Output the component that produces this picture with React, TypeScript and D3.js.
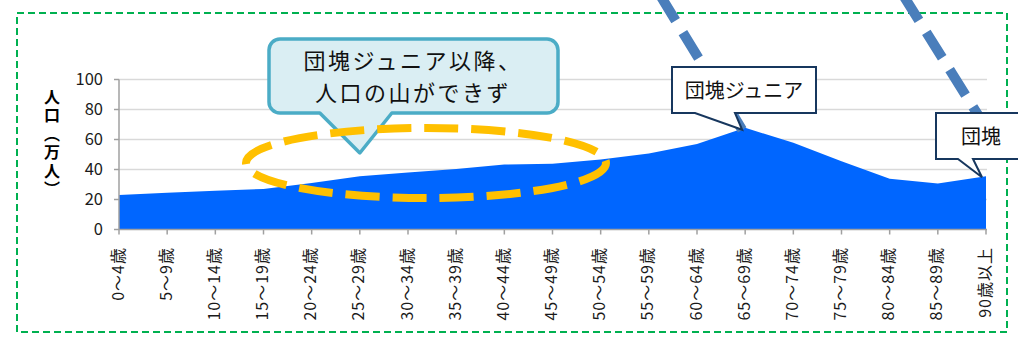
import React from "react";
import * as d3 from "d3";

const categories = [
  "0〜4歳", "5〜9歳", "10〜14歳", "15〜19歳", "20〜24歳", "25〜29歳", "30〜34歳",
  "35〜39歳", "40〜44歳", "45〜49歳", "50〜54歳", "55〜59歳", "60〜64歳", "65〜69歳",
  "70〜74歳", "75〜79歳", "80〜84歳", "85〜89歳", "90歳以上",
];
const population = [
  23, 24.5, 25.8, 27, 31, 35.5, 38, 40.4, 43.3, 43.8, 46.7, 50.7, 57, 67.8, 57.8, 45.5, 33.8, 30.7, 35.5,
];
const yTicks = [0, 20, 40, 60, 80, 100];
const yTitle = "人口（万人）";
const callout1Lines = ["団塊ジュニア以降、", "人口の山ができず"];
const calloutJunior = "団塊ジュニア";
const calloutBoomer = "団塊";

const W = 1018;
const H = 340;
const FONT = "'Noto Sans CJK JP', 'Noto Sans', sans-serif";

export default function App() {
  const x = d3.scalePoint<string>().domain(categories).range([119, 986]);
  const y = d3.scaleLinear().domain([0, 100]).range([229.5, 79.5]);

  const area = d3
    .area<number>()
    .x((_, i) => x(categories[i]) as number)
    .y0(y(0))
    .y1((d) => y(d))
    .curve(d3.curveLinear);

  const juniorIdx = 13;
  const boomerIdx = 18;
  const jx = x(categories[juniorIdx]) as number;
  const jy = y(population[juniorIdx]);
  const bx = x(categories[boomerIdx]) as number;
  const by = y(population[boomerIdx]);

  const c1 = { x0: 269, y0: 39, x1: 558, y1: 113, r: 11 };
  const tip1 = { x: x(categories[5]) as number, y: 153 };
  const c1Path = `M${c1.x0 + c1.r},${c1.y0} H${c1.x1 - c1.r} A${c1.r},${c1.r} 0 0 1 ${c1.x1},${c1.y0 + c1.r} V${c1.y1 - c1.r} A${c1.r},${c1.r} 0 0 1 ${c1.x1 - c1.r},${c1.y1} H${tip1.x + 32} L${tip1.x},${tip1.y} L${tip1.x - 40},${c1.y1} H${c1.x0 + c1.r} A${c1.r},${c1.r} 0 0 1 ${c1.x0},${c1.y1 - c1.r} V${c1.y0 + c1.r} A${c1.r},${c1.r} 0 0 1 ${c1.x0 + c1.r},${c1.y0} Z`;

  const c2 = { x0: 672, y0: 67, x1: 816, y1: 113 };
  const tip2 = { x: jx - 3, y: jy + 2 };
  const c2Path = `M${c2.x0},${c2.y0} H${c2.x1} V${c2.y1} H${735} L${tip2.x},${tip2.y} L${695},${c2.y1} H${c2.x0} Z`;

  const c3 = { x0: 936, y0: 113, x1: 1040, y1: 159 };
  const tip3 = { x: bx - 4, y: by + 1 };
  const c3Path = `M${c3.x0},${c3.y0} H${c3.x1} V${c3.y1} H${973} L${tip3.x},${tip3.y} L${958},${c3.y1} H${c3.x0} Z`;

  return (
    <svg
      width={W}
      height={H}
      style={{ position: "absolute", left: 0, top: 0, background: "#fff" }}
      fontFamily={FONT}
    >
      <rect x={17} y={13} width={990} height={319} fill="none" stroke="#00b050" strokeWidth={2} strokeDasharray="7 4" />

      {yTicks.filter((t) => t > 0).map((t) => (
        <line key={t} x1={119} x2={987} y1={y(t)} y2={y(t)} stroke="#d9d9d9" strokeWidth={1.3} />
      ))}

      <path d={area(population) || ""} fill="#0066ff" />

      <line x1={119} x2={119} y1={y(100)} y2={y(0)} stroke="#a0a0a0" strokeWidth={1.5} />
      {yTicks.map((t) => (
        <g key={t}>
          <line x1={114} x2={119} y1={y(t)} y2={y(t)} stroke="#a0a0a0" strokeWidth={1.5} />
          <text x={103} y={y(t)} dy="0.35em" textAnchor="end" fontSize={16.5} fill="#1a1a1a">
            {t}
          </text>
        </g>
      ))}

      <line x1={119} x2={987} y1={y(0)} y2={y(0)} stroke="#a0a0a0" strokeWidth={1.5} />
      {categories.map((c) => {
        const cx = x(c) as number;
        return (
          <g key={c}>
            <line x1={cx} x2={cx} y1={y(0)} y2={y(0) + 5} stroke="#a0a0a0" strokeWidth={1.5} />
            <text
              transform={`translate(${cx - 1},247) rotate(-90)`}
              textAnchor="end"
              dy="0.35em"
              fontSize={16}
              letterSpacing={1}
              fill="#1a1a1a"
            >
              {c}
            </text>
          </g>
        );
      })}

      <text
        x={52}
        y={89}
        fontSize={16}
        fontWeight="bold"
        fill="#000"
        letterSpacing={2.4}
        style={{ writingMode: "vertical-rl" as any }}
      >
        {yTitle}
      </text>

      <line x1={660} y1={-5} x2={tip2.x} y2={tip2.y} stroke="#4a7ebb" strokeWidth={10} strokeDasharray="30 14" />
      <line x1={903} y1={-5} x2={978} y2={115} stroke="#4a7ebb" strokeWidth={10} strokeDasharray="30 14" />

      <path d={c2Path} fill="#fff" stroke="#17375e" strokeWidth={2} strokeLinejoin="miter" />
      <text x={(c2.x0 + c2.x1) / 2} y={91} dy="0.36em" textAnchor="middle" fontSize={20} fill="#111">
        {calloutJunior}
      </text>

      <path d={c3Path} fill="#fff" stroke="#17375e" strokeWidth={2} />
      <text x={981} y={137} dy="0.36em" textAnchor="middle" fontSize={20} fill="#111">
        {calloutBoomer}
      </text>

      <path d={c1Path} fill="#daeef3" stroke="#4bacc6" strokeWidth={3.5} strokeLinejoin="round" />
      {callout1Lines.map((l, i) => (
        <text
          key={i}
          x={413}
          y={61.5 + i * 32}
          dy="0.36em"
          textAnchor="middle"
          fontSize={22}
          letterSpacing={2.5}
          fill="#111"
        >
          {l}
        </text>
      ))}

      <ellipse cx={426} cy={163} rx={180} ry={35} fill="none" stroke="#ffc000" strokeWidth={8} strokeDasharray="34 13" />
    </svg>
  );
}
